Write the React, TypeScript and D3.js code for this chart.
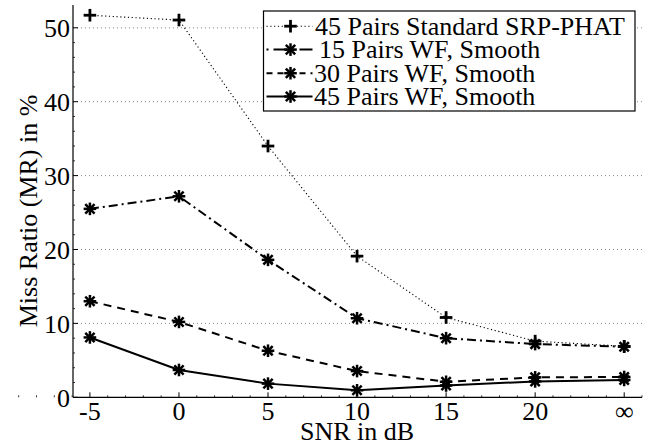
import React from "react";
import * as d3 from "d3";

const categories = ["-5", "0", "5", "10", "15", "20", "∞"];
const srpPhat45 = [51.7, 51.05, 34.0, 19.1, 10.8, 7.6, 6.9];
const wf15 = [25.5, 27.2, 18.6, 10.7, 8.0, 7.2, 6.85];
const wf30 = [13.0, 10.2, 6.3, 3.55, 2.1, 2.7, 2.75];
const wf45 = [8.1, 3.7, 1.85, 0.95, 1.6, 2.15, 2.35];
const yTicks = [0, 10, 20, 30, 40, 50];
const seriesNames = [
  "45 Pairs Standard SRP-PHAT",
  "15 Pairs WF, Smooth",
  "30 Pairs WF, Smooth",
  "45 Pairs WF, Smooth",
];

const W = 650;
const H = 443;

function T(props: any) {
  const { children, style, ...rest } = props;
  return (
    <text {...rest} style={{ fontFamily: '"Liberation Serif"', ...(style || {}) }}>
      {children}
    </text>
  );
}

export default function App() {
  const x = d3.scaleLinear().domain([-0.19, 6.2]).range([73, 642]);
  const y = d3.scaleLinear().domain([0, 50]).range([397.3, 27.8]);
  const yTop = y.invert(5);

  const line = d3
    .line<number>()
    .x((_, i) => x(i))
    .y((d) => y(d));

  const series = [
    { data: srpPhat45, dash: "1.2,2.6", width: 1.1, marker: "plus", ldash: "1.2,2.6", tx: 315 },
    { data: wf15, dash: "9,4,2,4", width: 2, marker: "star", ldash: "2,5,14,5", tx: 319 },
    { data: wf30, dash: "8,6", width: 2, marker: "star", ldash: "6,5", tx: 314 },
    { data: wf45, dash: "none", width: 2, marker: "star", ldash: "none", tx: 314 },
  ];

  const marker = (type: string, cx: number, cy: number, key: string) => {
    const r = 6.3;
    if (type === "plus") {
      return (
        <g key={key} stroke="#000" strokeWidth={2.8}>
          <line x1={cx - r} x2={cx + r} y1={cy} y2={cy} />
          <line x1={cx} x2={cx} y1={cy - r} y2={cy + r} />
        </g>
      );
    }
    const d = r * 0.74;
    return (
      <g key={key} stroke="#000" strokeWidth={2.5}>
        <line x1={cx - r} x2={cx + r} y1={cy} y2={cy} />
        <line x1={cx} x2={cx} y1={cy - r} y2={cy + r} />
        <line x1={cx - d} x2={cx + d} y1={cy - d} y2={cy + d} />
        <line x1={cx - d} x2={cx + d} y1={cy + d} y2={cy - d} />
      </g>
    );
  };

  const minorTicks: number[] = [];
  for (let k = -0.8; k <= 6.2001; k += 0.2) {
    if (Math.abs(k - Math.round(k)) > 1e-6) minorTicks.push(k);
  }
  const yMinor = d3.range(0, 52, 2).filter((v) => v % 10 !== 0);

  const legX = 263.5;
  const legY = 11;
  const legW = 371.5;
  const legH = 100;
  const rowYs = [26.2, 49.6, 73.2, 96.5];

  return (
    <svg width={W} height={H} style={{ position: "absolute", left: 0, top: 0, background: "#fff" }}>
      <style>{`text { font-family: "Liberation Serif", "Tinos", "Nimbus Roman", serif; }`}</style>
      <rect width={W} height={H} fill="#fff" />
      {yTicks
        .filter((t) => t > 0)
        .map((t) => (
          <line
            key={"g" + t}
            x1={x.range()[0]}
            x2={x.range()[1]}
            y1={y(t)}
            y2={y(t)}
            stroke="#888"
            strokeWidth={1}
            strokeDasharray="1,3"
          />
        ))}
      <line x1={73} x2={73} y1={y(yTop)} y2={y(0)} stroke="#000" strokeWidth={1.2} />
      <line x1={73} x2={642} y1={y(0)} y2={y(0)} stroke="#000" strokeWidth={1.2} />
      {yTicks.map((t) => (
        <g key={"yt" + t}>
          <line x1={73} x2={78} y1={y(t)} y2={y(t)} stroke="#000" strokeWidth={1} />
          <T x={70} y={y(t) + 9.3} textAnchor="end" fontSize={26}>
            {String(t)}
          </T>
        </g>
      ))}
      {yMinor.map((t) => (
        <line key={"ym" + t} x1={73} x2={75} y1={y(t)} y2={y(t)} stroke="#000" strokeWidth={0.8} />
      ))}
      {categories.map((c, i) => (
        <g key={"xt" + i}>
          <line x1={x(i)} x2={x(i)} y1={y(0)} y2={y(0) - 5} stroke="#000" strokeWidth={1} />
          <T x={x(i)} y={y(0) + 23} textAnchor="middle" fontSize={26}>
            {c}
          </T>
        </g>
      ))}
      {minorTicks.map((k, i) => (
        <line key={"xm" + i} x1={x(k)} x2={x(k)} y1={y(0)} y2={y(0) - 2} stroke="#000" strokeWidth={0.8} />
      ))}
      <T x={357} y={440} textAnchor="middle" fontSize={26}>
        SNR in dB
      </T>
      <T transform={`translate(37,${211}) rotate(-90)`} textAnchor="middle" fontSize={26}>
        Miss Ratio (MR) in %
      </T>
      {series.map((s, si) => (
        <g key={"s" + si}>
          <path
            d={line(s.data) || ""}
            fill="none"
            stroke="#000"
            strokeWidth={s.width}
            strokeDasharray={s.dash}
          />
          {s.data.map((v, i) => marker(s.marker, x(i), y(v), `m${si}-${i}`))}
        </g>
      ))}
      <rect x={legX} y={legY} width={legW} height={legH} fill="#fff" stroke="#000" strokeWidth={1.2} />
      {series.map((s, si) => (
        <g key={"l" + si}>
          <line
            x1={legX + 3}
            x2={legX + 49}
            y1={rowYs[si]}
            y2={rowYs[si]}
            stroke="#000"
            strokeWidth={s.width}
            strokeDasharray={s.ldash}
          />
          {marker(s.marker, legX + 27, rowYs[si], "lm" + si)}
          <T x={s.tx} y={rowYs[si] + 8.8} fontSize={26}>
            {seriesNames[si]}
          </T>
        </g>
      ))}
    </svg>
  );
}
